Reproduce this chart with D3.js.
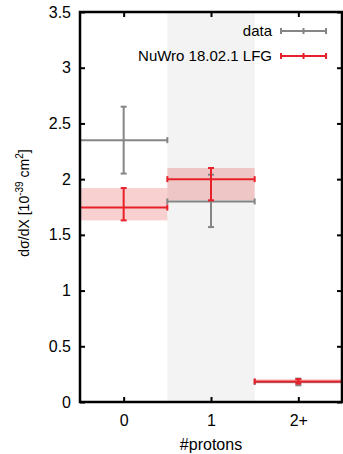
<!DOCTYPE html>
<html>
<head>
<meta charset="utf-8">
<script src="https://cdn.jsdelivr.net/npm/d3@7"></script>
<style>
  body { margin: 0; background: #fff; }
  svg { display: block; font-family: "Liberation Sans", Arial, sans-serif; }
</style>
</head>
<body>
<div id="chart"></div>
<script>
// bins and tick labels
var categories = ["0", "1", "2+"];
var yTicks = [0, 0.5, 1, 1.5, 2, 2.5, 3, 3.5];

// data points with errors
var dataVal = [2.35, 1.80, 0.18];
var dataLo  = [2.05, 1.57, 0.15];
var dataHi  = [2.65, 2.04, 0.21];

// NuWro prediction with uncertainty band
var nuwroVal = [1.745, 2.00, 0.185];
var nuwroLo  = [1.63, 1.81, 0.165];
var nuwroHi  = [1.92, 2.10, 0.205];

var seriesNames = ["data", "NuWro 18.02.1 LFG"];

var width = 343, height = 454;
var margin = {left: 80, right: 1, top: 12, bottom: 52};

var svg = d3.select("#chart").append("svg")
  .attr("width", width).attr("height", height);

var x = d3.scaleLinear().domain([-0.5, 2.5]).range([margin.left, width - margin.right]);
var y = d3.scaleLinear().domain([0, 3.5]).range([height - margin.bottom, margin.top]);

var idx = d3.range(categories.length);

// shaded middle bin
svg.append("rect")
  .attr("x", x(0.5)).attr("y", y(3.5))
  .attr("width", x(1.5) - x(0.5)).attr("height", y(0) - y(3.5))
  .attr("fill", "#f3f3f3");

// NuWro uncertainty band
svg.selectAll(".band").data(idx).enter().append("rect")
  .attr("class", "band")
  .attr("x", function(i) { return x(i - 0.5); })
  .attr("width", function(i) { return x(i + 0.5) - x(i - 0.5); })
  .attr("y", function(i) { return y(nuwroHi[i]); })
  .attr("height", function(i) { return y(nuwroLo[i]) - y(nuwroHi[i]); })
  .attr("fill", "rgba(228, 40, 40, 0.22)");

// crosses: horizontal bin width + vertical error, both capped
function drawCross(vals, lo, hi, color, cls) {
  var g = svg.append("g").attr("class", cls)
    .attr("stroke", color).attr("stroke-width", 2).attr("fill", "none");
  idx.forEach(function(i) {
    var cx = x(i), cy = y(vals[i]);
    var x0 = x(i - 0.5), x1 = x(i + 0.5);
    g.append("line").attr("x1", x0).attr("x2", x1).attr("y1", cy).attr("y2", cy);
    g.append("line").attr("x1", x0).attr("x2", x0).attr("y1", cy - 3).attr("y2", cy + 3);
    g.append("line").attr("x1", x1).attr("x2", x1).attr("y1", cy - 3).attr("y2", cy + 3);
    g.append("line").attr("x1", cx).attr("x2", cx).attr("y1", y(lo[i])).attr("y2", y(hi[i]));
    g.append("line").attr("x1", cx - 3).attr("x2", cx + 3).attr("y1", y(lo[i])).attr("y2", y(lo[i]));
    g.append("line").attr("x1", cx - 3).attr("x2", cx + 3).attr("y1", y(hi[i])).attr("y2", y(hi[i]));
  });
}
drawCross(dataVal, dataLo, dataHi, "#858585", "data");
drawCross(nuwroVal, nuwroLo, nuwroHi, "#e8202a", "nuwro");

// axes with inward ticks on all sides
var fmt = function(d) { return d3.format("")(d); };
var yAxisL = d3.axisLeft(y).tickValues(yTicks).tickSize(-5).tickPadding(9).tickFormat(fmt);
var yAxisR = d3.axisRight(y).tickValues(yTicks).tickSize(-5).tickFormat("");
var xAxisB = d3.axisBottom(x).tickValues(idx).tickSize(-5).tickPadding(13)
  .tickFormat(function(i) { return categories[i]; });
var xAxisT = d3.axisTop(x).tickValues(idx).tickSize(-5).tickFormat("");

function styleAxis(g) {
  g.select(".domain").remove();
  g.selectAll(".tick line").attr("stroke", "#000").attr("stroke-width", 2);
  g.selectAll("text").attr("font-size", 16).attr("fill", "#000")
    .attr("font-family", "Liberation Sans, Arial, sans-serif");
}
svg.append("g").attr("transform", "translate(" + margin.left + ",0)").call(yAxisL).call(styleAxis);
svg.append("g").attr("transform", "translate(" + (width - margin.right) + ",0)").call(yAxisR).call(styleAxis);
svg.append("g").attr("transform", "translate(0," + y(0) + ")").call(xAxisB).call(styleAxis);
svg.append("g").attr("transform", "translate(0," + y(3.5) + ")").call(xAxisT).call(styleAxis);

// frame
svg.append("rect")
  .attr("x", x(-0.5)).attr("y", y(3.5))
  .attr("width", x(2.5) - x(-0.5)).attr("height", y(0) - y(3.5))
  .attr("fill", "none").attr("stroke", "#000").attr("stroke-width", 2.5);

// axis titles
svg.append("text")
  .attr("x", (x(-0.5) + x(2.5)) / 2).attr("y", 450)
  .attr("text-anchor", "middle").attr("font-size", 16)
  .text("#protons");

var yt = svg.append("text")
  .attr("transform", "translate(29,203) rotate(-90)")
  .attr("text-anchor", "middle").attr("font-size", 14);
yt.append("tspan").text("dσ/dX [10");
yt.append("tspan").attr("dy", -6).attr("font-size", 10).text("-39");
yt.append("tspan").attr("dy", 6).text(" cm");
yt.append("tspan").attr("dy", -6).attr("font-size", 10).text("2");
yt.append("tspan").attr("dy", 6).text("]");

// legend
var legColors = ["#858585", "#e8202a"];
var leg = svg.append("g");
seriesNames.forEach(function(name, k) {
  var ly = 31 + k * 25;
  leg.append("text").attr("x", 272).attr("y", ly + 5)
    .attr("text-anchor", "end").attr("font-size", 15).text(name);
  var lg = leg.append("g").attr("stroke", legColors[k]).attr("stroke-width", 2);
  lg.append("line").attr("x1", 281).attr("x2", 326).attr("y1", ly).attr("y2", ly);
  [281, 303.5, 326].forEach(function(px) {
    lg.append("line").attr("x1", px).attr("x2", px).attr("y1", ly - 3).attr("y2", ly + 3);
  });
});
</script>
</body>
</html>
